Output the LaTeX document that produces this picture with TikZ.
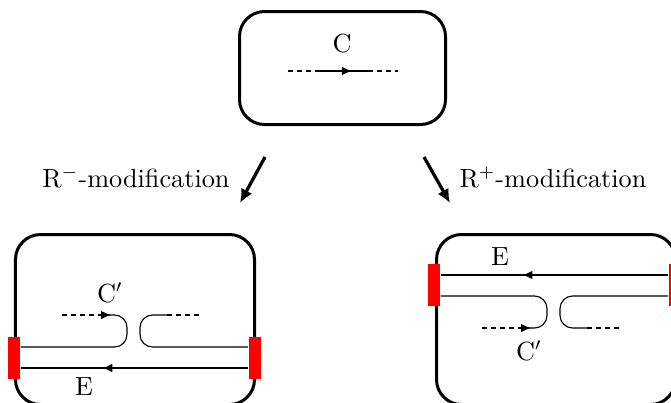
\documentclass[tikz,border=0pt]{standalone}
\usetikzlibrary{arrows.meta,decorations.markings}
\tikzset{
  frame/.style={draw,line width=1.2pt,rounded corners=10pt,inner sep=0pt},
  redbar/.style={fill=red,inner sep=0pt,minimum width=4.8pt,minimum height=16.8pt},
  wire/.style={line width=0.45pt},
  loop/.style={wire,rounded corners=5pt},
  dashwire/.style={wire,dash pattern=on 2pt off 1.6pt},
  tip/.style={wire,-{Latex[length=4pt,width=3.4pt]}},
  bigarrow/.style={line width=1.3pt,-{Latex[length=5.5pt,width=5pt]}},
  midarrow/.style={postaction={decorate},decoration={markings,
    mark=at position #1 with {\arrow{Latex[length=4pt,width=3.4pt]}}}},
}
\begin{document}
\begin{tikzpicture}[x=0.4pt,y=-0.4pt,font=\fontsize{10.5}{12}\selectfont]
	\useasboundingbox (0,0) rectangle (671,402);
	\clip (0,0) rectangle (671,402);
	% boxes
	\node[frame,minimum width=82.4pt,minimum height=45.2pt] (orig) at (342.5,68) {};
	\node[frame,minimum width=95.6pt,minimum height=68pt] (minus) at (135,319.5) {};
	\node[frame,minimum width=95.6pt,minimum height=68pt] (plus) at (556,319.5) {};
	% original chain
	\node (C) at (342,44) {C};
	\coordinate (c1) at (288,71);
	\coordinate (c2) at (316,71);
	\coordinate (c3) at (368,71);
	\coordinate (c4) at (398,71);
	\draw[dashwire] (c1) -- (c2);
	\draw[wire,midarrow=0.69] (c2) -- (c3);
	\draw[dashwire] (c3) -- (c4);
	% modification arrows
	\coordinate (ms) at (265,157);
	\coordinate (me) at (240,203);
	\coordinate (ps) at (424,157);
	\coordinate (pe) at (450,203);
	\draw[bigarrow] (ms) -- (me);
	\draw[bigarrow] (ps) -- (pe);
	\node (Rm) at (136,177) {R$^{-}$-modification};
	\node (Rp) at (553,177) {R$^{+}$-modification};
	% R- box
	\node[redbar] (mL) at (14,358) {};
	\node[redbar] (mR) at (254.5,358) {};
	\node (Cm) at (110,293) {C$'$};
	\node (Em) at (84,387) {E};
	\draw[wire,midarrow=0.64] (mR.west |- 0,368) -- (mL.east |- 0,368);
	\draw[loop] (mL.east |- 0,347) -- (127,347) -- (127,315) -- (100,315);
	\draw[loop] (mR.west |- 0,347) -- (140,347) -- (140,315) -- (167,315);
	\draw[tip] (100,315) -- (111,315);
	\draw[dashwire] (62,315) -- (100,315);
	\draw[dashwire] (167,315) -- (202,315);
	% R+ box
	\node[redbar] (pL) at (434,285) {};
	\node[redbar] (pR) at (674.5,285) {};
	\node (Cp) at (529,351) {C$'$};
	\node (Ep) at (500,257) {E};
	\draw[wire,midarrow=0.64] (pR.west |- 0,275) -- (pL.east |- 0,275);
	\draw[loop] (pL.east |- 0,296) -- (547,296) -- (547,328) -- (520,328);
	\draw[loop] (pR.west |- 0,296) -- (560,296) -- (560,328) -- (587,328);
	\draw[tip] (520,328) -- (531,328);
	\draw[dashwire] (482,328) -- (520,328);
	\draw[dashwire] (587,328) -- (622,328);
\end{tikzpicture}
\end{document}
